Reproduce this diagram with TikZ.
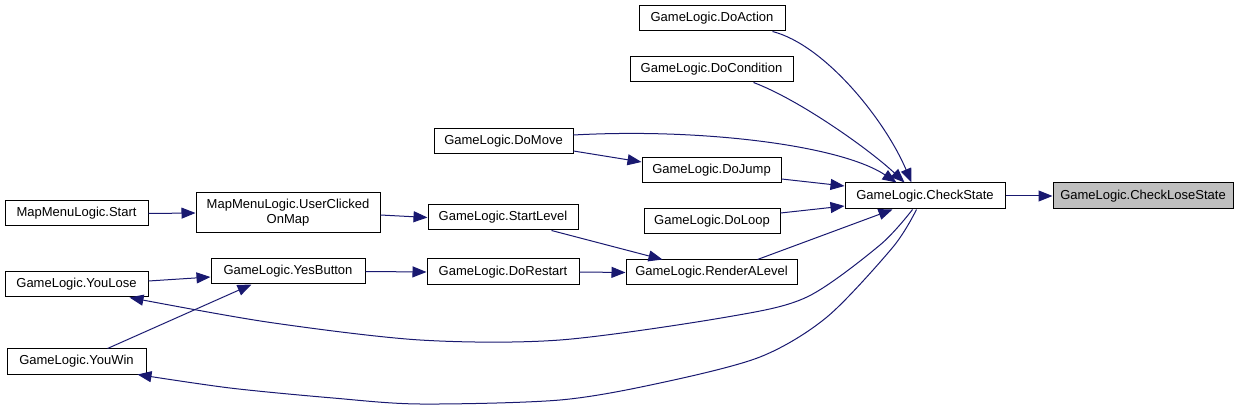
\documentclass[tikz,border=0pt]{standalone}
\usepackage{fontspec}
\setmainfont{Liberation Sans}
\usetikzlibrary{arrows.meta,calc}
\definecolor{edgeblue}{RGB}{25,25,112}
\definecolor{hilite}{RGB}{191,191,191}
\begin{document}
\begin{tikzpicture}[x=1pt,y=-1pt,
  box/.style={draw=black,line width=1pt,fill=white,inner sep=0pt,minimum height=25pt,
    font=\fontsize{13}{15}\selectfont,text=black,align=center},
  edge/.style={draw=edgeblue,line width=1pt,-{Triangle[length=14pt,width=11pt]}},
]
\useasboundingbox (0,0) rectangle (1247,411);

% nodes
\node[box,minimum width=160pt,minimum height=26pt] (CS) at (925,196) {GameLogic.CheckState};
\node[box,minimum width=180pt,minimum height=26pt,fill=hilite] (CLS) at (1143,196) {GameLogic.CheckLoseState};
\node[box,minimum width=146pt] (DA) at (712,18.5) {GameLogic.DoAction};
\node[box,minimum width=163pt] (DC) at (711.5,69.5) {GameLogic.DoCondition};
\node[box,minimum width=139pt] (DM) at (503.5,141.5) {GameLogic.DoMove};
\node[box,minimum width=139pt] (DJ) at (711.5,170.5) {GameLogic.DoJump};
\node[box,minimum width=150pt] (SL) at (503,217.5) {GameLogic.StartLevel};
\node[box,minimum width=136pt] (DL) at (712,221.5) {GameLogic.DoLoop};
\node[box,minimum width=152pt,minimum height=26pt] (DR) at (503,272) {GameLogic.DoRestart};
\node[box,minimum width=171pt] (RL) at (711.5,272.5) {GameLogic.RenderALevel};
\node[box,minimum width=143pt] (MS) at (76.5,213.5) {MapMenuLogic.Start};
\node[box,minimum width=184pt,minimum height=40pt] (UC) at (288,213) {MapMenuLogic.UserClicked\\OnMap};
\node[box,minimum width=143pt] (YL) at (76.5,284.5) {GameLogic.YouLose};
\node[box,minimum width=154pt] (YB) at (288,271.5) {GameLogic.YesButton};
\node[box,minimum width=139pt] (YW) at (76.5,361.5) {GameLogic.YouWin};

% edges
\draw[edge] (CS.east) -- (CLS.west);
\draw[edge] ($(DA.south west)+(134,0)$) .. controls (825,45) and (885,120) .. ($(CS.north west)+(67,0)$);
\draw[edge] ($(DC.south west)+(124,0)$) .. controls (800,100) and (870,150) .. ($(CS.north west)+(60,0)$);
\draw[edge] ($(DM.east)+(0,-6.5)$) .. controls (700,128) and (840,145) .. ($(CS.north west)+(52,0)$);
\draw[edge] ($(DJ.east)+(0,8.5)$) -- ($(CS.west)+(0,-10)$);
\draw[edge] ($(DL.east)+(0,-8.5)$) -- ($(CS.west)+(0,10)$);
\draw[edge] ($(RL.north west)+(132,0)$) -- ($(CS.south west)+(48,0)$);

\coordinate (la) at ($(CS.south west)+(68,0)$);
\coordinate (lb) at ($(YL.south east)+(-19,0)$);
\draw[edge] plot[smooth,tension=0.5] coordinates {(la) (880,245) (807,297) (727,317) (560,340) (420,340) (267,322) (lb)};
\coordinate (wa) at ($(CS.south west)+(72,0)$);
\coordinate (wb) at ($(YW.south east)+(-9,0)$);
\draw[edge] plot[smooth,tension=0.5] coordinates {(wa) (893,247) (827,317) (760,357) (660,383) (560,400) (420,404) (333,398) (230,388) (wb)};

\draw[edge] ($(DM.east)+(0,9.5)$) -- ($(DJ.west)+(0,-8.5)$);
\draw[edge] ($(SL.south west)+(124,0)$) -- ($(RL.north west)+(37,0)$);
\draw[edge] (DR.east) -- (RL.west);
\draw[edge] (YB.east) -- (DR.west);
\draw[edge] ($(UC.east)+(0,2)$) -- (SL.west);
\draw[edge] (MS.east) -- (UC.west);
\draw[edge] ($(YL.east)+(0,-3.5)$) -- ($(YB.west)+(0,5.5)$);
\draw[edge] ($(YW.north west)+(101,0)$) -- ($(YB.south west)+(41,0)$);
\end{tikzpicture}
\end{document}
